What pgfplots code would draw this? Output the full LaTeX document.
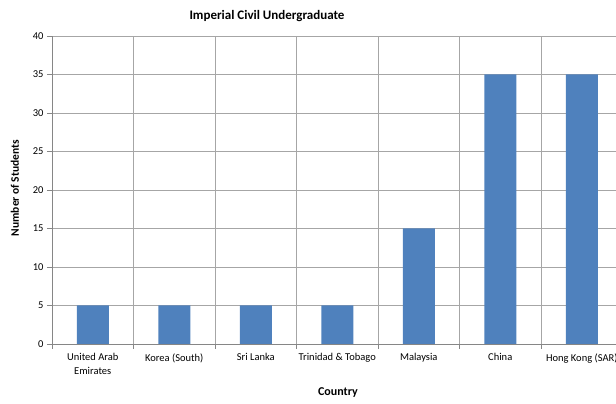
\documentclass[border=0pt]{standalone}
\usepackage{pgfplots}
\pgfplotsset{compat=1.18}
\usepackage{fontspec}
\setmainfont{Carlito}
\definecolor{barblue}{HTML}{4F81BD}
\definecolor{gridgray}{HTML}{A6A6A6}
\definecolor{axgray}{HTML}{868686}
\begin{document}
\begin{tikzpicture}[x=1pt,y=1pt]
\path[use as bounding box] (-52,-60) rectangle (564,344);
\begin{axis}[
  at={(0,0)}, anchor=south west,
  scale only axis, width=564pt, height=308pt,
  xmin=-0.5, xmax=6.42, ymin=0, ymax=40,
  axis x line*=bottom, axis y line*=left,
  axis line style={axgray, line width=0.8pt},
  xtick={0,1,2,3,4,5,6},
  xticklabels={{United Arab\\Emirates},{Korea (South)},{Sri Lanka},{Trinidad \& Tobago},{Malaysia},{China},{Hong Kong (SAR)}},
  xticklabel style={align=center, font=\fontsize{10.5}{14}\selectfont, text=black, yshift=-1pt},
  minor xtick={-0.5,0.5,1.5,2.5,3.5,4.5,5.5},
  major x tick style={draw=none},
  minor x tick style={axgray, line width=0.8pt},
  minor tick length=5pt,
  xminorgrids=true,
  minor x grid style={gridgray, line width=0.8pt},
  ytick={0,5,...,40},
  ymajorgrids=true,
  major y grid style={gridgray, line width=0.8pt},
  y tick style={axgray, line width=0.8pt},
  major tick length=5pt,
  tick align=outside,
  yticklabel style={font=\fontsize{10.5}{12}\selectfont, text=black},
  /pgf/number format/assume math mode=true,
  clip=false,
]
\addplot[ybar, bar width=32pt, fill=barblue, draw=none, bar shift=0pt] coordinates {
 (0,5) (1,5) (2,5) (3,5) (4,15) (5,35) (6,35)
};
\end{axis}
\node[font=\bfseries\fontsize{13}{15}\selectfont] at (215,328) {Imperial Civil Undergraduate};
\node[font=\bfseries\fontsize{12}{14}\selectfont] at (286,-49) {Country};
\node[font=\bfseries\fontsize{11.5}{13}\selectfont, rotate=90] at (-37,156) {Number of Students};
\end{tikzpicture}
\end{document}
